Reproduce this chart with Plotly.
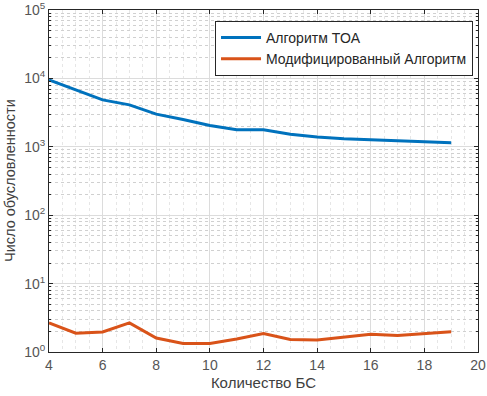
import plotly.graph_objects as go

bs_count = [4, 5, 6, 7, 8, 9, 10, 11, 12, 13, 14, 15, 16, 17, 18, 19]
toa = [9500, 6800, 4850, 4100, 3000, 2500, 2050, 1770, 1770, 1530, 1390, 1310, 1280, 1230, 1190, 1150]
modified = [2.67, 1.88, 1.96, 2.67, 1.6, 1.33, 1.33, 1.55, 1.86, 1.52, 1.5, 1.64, 1.82, 1.74, 1.84, 1.97]

x_ticks = [4, 6, 8, 10, 12, 14, 16, 18, 20]
y_ticks = [1, 10, 100, 1000, 10000, 100000]
y_ticktext = ["10<sup>0</sup>", "10<sup>1</sup>", "10<sup>2</sup>", "10<sup>3</sup>", "10<sup>4</sup>", "10<sup>5</sup>"]

y_minor = [m * d for d in [1, 10, 100, 1000, 10000] for m in range(2, 10)]
x_minor = [4 + 0.5 * i for i in range(33)]

FONT = "Liberation Sans, Arial"

fig = go.Figure()
fig.add_trace(go.Scatter(x=bs_count, y=toa, mode="lines", name="Алгоритм TOA",
                         line=dict(color="#0072BD", width=3)))
fig.add_trace(go.Scatter(x=bs_count, y=modified, mode="lines", name="Модифицированный Алгоритм",
                         line=dict(color="#D95319", width=3)))

axis_common = dict(
    showline=True, linecolor="#262626", linewidth=1, mirror="ticks",
    ticks="inside", ticklen=4, tickcolor="#262626",
    showgrid=True, gridcolor="#DCDCDC", gridwidth=1,
    zeroline=False, automargin=False,
    tickfont=dict(family=FONT, size=14, color="#555555"),
)

fig.update_xaxes(
    **axis_common,
    range=[4, 20], tickmode="array", tickvals=x_ticks,
    title=dict(text="Количество БС", font=dict(family=FONT, size=15, color="#404040"), standoff=5),
    minor=dict(tickmode="array", tickvals=x_minor, showgrid=True, gridcolor="#E6E6E6",
               griddash="dot", gridwidth=1, ticks=""),
)
fig.update_yaxes(
    **axis_common,
    type="log", range=[0, 5], tickmode="array", tickvals=y_ticks, ticktext=y_ticktext,
    minor=dict(tickmode="array", tickvals=y_minor, showgrid=True, gridcolor="#D0D0D0",
               griddash="dot", gridwidth=1, ticks="inside", ticklen=2, tickcolor="#262626"),
)

fig.add_annotation(
    text="Число обусловленности", textangle=-90, showarrow=False,
    xref="paper", yref="paper", x=-39 / 429, y=0.5, xanchor="center", yanchor="middle",
    font=dict(family=FONT, size=14.5, color="#404040"),
)

fig.update_layout(
    width=487, height=396,
    margin=dict(l=49, r=9, t=10, b=44),
    plot_bgcolor="white", paper_bgcolor="white",
    showlegend=True,
    legend=dict(x=0.387, y=0.968, xanchor="left", yanchor="top",
                bgcolor="white", bordercolor="#262626", borderwidth=1,
                font=dict(family=FONT, size=14, color="#262626"),
                tracegroupgap=0, itemwidth=40),
)

# remove the default 8px page margin so the figure fills the window exactly
fig.write_html("out.html", config={"displayModeBar": False},
               post_script="document.body.style.margin='0';document.body.style.overflow='hidden';")
